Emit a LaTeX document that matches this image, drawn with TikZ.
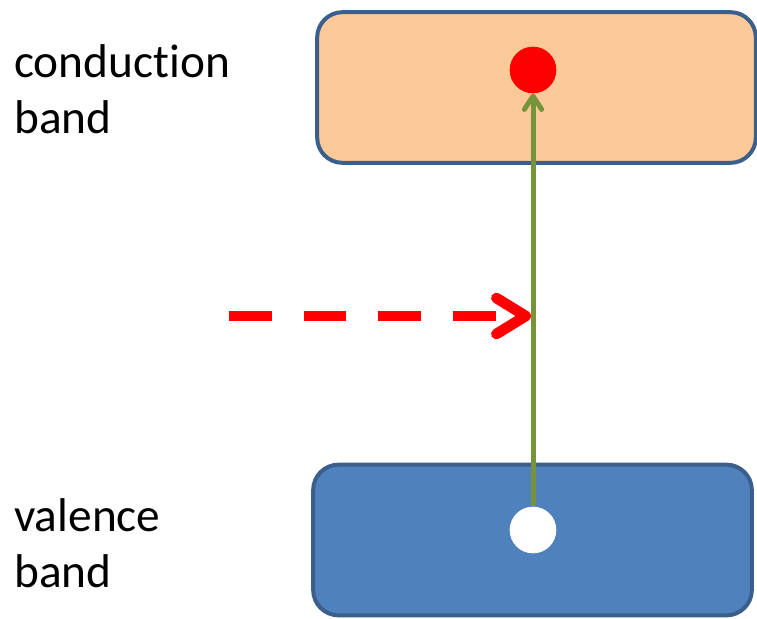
\documentclass[tikz,border=0pt]{standalone}
\usepackage{fontspec}
\setmainfont{Carlito}[Ligatures=NoCommon]
\usetikzlibrary{arrows.meta}

\definecolor{bandorange}{HTML}{FCCA99}
\definecolor{bandblue}{HTML}{4F81BD}
\definecolor{bandedge}{HTML}{3A5F8C}
\definecolor{transgreen}{HTML}{77933C}

\tikzset{
  band/.style={draw=bandedge, line width=3pt, rounded corners=19pt, minimum width=329pt, minimum height=113pt, inner sep=0pt},
  carrier/.style={circle, minimum size=35pt, inner sep=0pt},
  bandlabel/.style={font=\fontsize{35.5}{41.5}\selectfont, align=left, inner sep=0pt, anchor=base west},
}

\begin{document}
\begin{tikzpicture}[x=0.75pt, y=-0.75pt]

    \useasboundingbox (0,0) rectangle (757,618);

    % the two bands
    \node[band, fill=bandorange] (cband) at (536.5,87.5) {};
    \node[band, fill=bandblue] (vband) at (532.5,540) {};

    \node[bandlabel] (clabel) at (14,133) {conduction\\band};
    \node[bandlabel] (vlabel) at (14,587) {valence\\band};

    % electron and hole
    \node[carrier, fill=red] (electron) at (533,70) {};
    \node[carrier, fill=white] (hole) at (533,530) {};

    % excitation
    \draw[transgreen, line width=3.75pt, -{Straight Barb[round, length=10pt, width=13pt]}] (hole) -- (electron);

    % incoming photon
    \coordinate (photon) at (229,316);
    \coordinate (hit) at (531,316);
    \draw[red, line width=8pt, dash pattern=on 32pt off 24pt, -{Straight Barb[round, length=22pt, width=27pt]}] (photon) -- (hit);

\end{tikzpicture}
\end{document}
